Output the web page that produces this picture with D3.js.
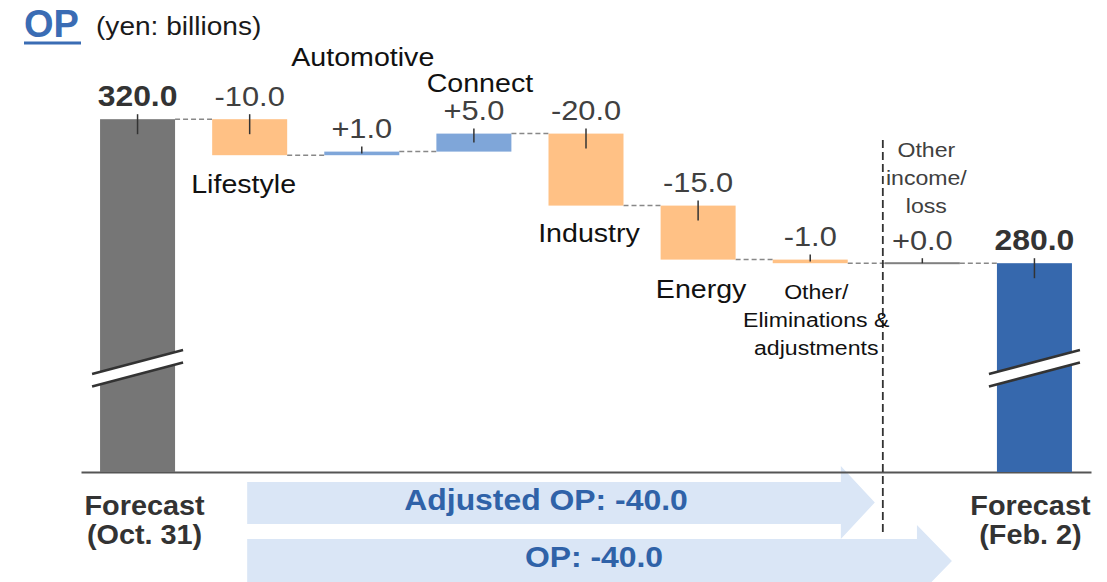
<!DOCTYPE html>
<html>
<head>
<meta charset="utf-8">
<script src="https://cdn.jsdelivr.net/npm/d3@7"></script>
<style>
  html, body { margin: 0; padding: 0; background: #fff; }
  svg { display: block; font-family: "Liberation Sans", Arial, sans-serif; }
</style>
</head>
<body>
<svg id="chart" width="1107" height="582"></svg>
<script>
// ---------------- data ----------------
const categories = ["Forecast (Oct. 31)", "Lifestyle", "Automotive", "Connect", "Industry", "Energy",
  "Other/ Eliminations & adjustments", "Other income/ loss", "Forecast (Feb. 2)"];
const categoryLines = [["Forecast", "(Oct. 31)"], ["Lifestyle"], ["Automotive"], ["Connect"], ["Industry"],
  ["Energy"], ["Other/", "Eliminations &", "adjustments"], ["Other", "income/", "loss"], ["Forecast", "(Feb. 2)"]];
const values = [320.0, -10.0, 1.0, 5.0, -20.0, -15.0, -1.0, 0.0, 280.0];
const kinds = ["total", "delta", "delta", "delta", "delta", "delta", "delta", "delta", "total"];
const axisFloor = 222;           // value at the (broken) baseline
const summaryNames = ["Adjusted OP", "OP"];
const summaryValues = [-40.0, -40.0];
const titleText = "OP";
const unitText = "(yen: billions)";

// ---------------- layout ----------------
const svg = d3.select("#chart");
const x = d3.scaleBand().domain(categories).range([81, 1091]).paddingInner(0.331).paddingOuter(0.17);
const y = d3.scaleLinear().domain([axisFloor, 320]).range([472, 119.2]);

const fmtDelta = v => d3.format("+.1f")(v).replace("\u2212", "-");
const fmtTotal = v => d3.format(".1f")(v).replace("\u2212", "-");

// running totals
let run = 0;
const bars = values.map((v, i) => {
  let lo, hi, level;
  if (kinds[i] === "total") { lo = axisFloor; hi = v; level = v; run = v; }
  else { const s = run; run = run + v; lo = Math.min(s, run); hi = Math.max(s, run); level = run; }
  return { i, cat: categories[i], v, lo, hi, level, kind: kinds[i] };
});

const colorOf = (d, i) => {
  if (d.kind === "total") return i === 0 ? "#767676" : "#3668ad";
  if (d.v > 0) return "#7fa6d9";
  if (d.v < 0) return "#ffc185";
  return "#808080";
};

// title
svg.append("text").attr("x", 24).attr("y", 37).attr("font-size", 38).attr("font-weight", "bold")
  .attr("fill", "#3a6cb4").text(titleText);
svg.append("rect").attr("x", 24).attr("y", 41.5).attr("width", 57).attr("height", 3).attr("fill", "#3a6cb4");
svg.append("text").attr("transform", "translate(96,35) scale(1.08,1)").attr("font-size", 26)
  .attr("fill", "#1a1a1a").text(unitText);

// summary arrows
const arrowDefs = [
  { x0: x(categories[1]) + 35, x1: x(categories[7]) - 44, tip: x(categories[7]) - 10, y0: 482, y1: 524, h0: 466, h1: 539, tx: 546, ty: 510 },
  { x0: x(categories[1]) + 35, x1: x(categories[8]) - 80, tip: x(categories[8]) - 45, y0: 539, y1: 583, h0: 525, h1: 597, tx: 594, ty: 567 }
];
arrowDefs.forEach((a, k) => {
  const my = (a.h0 + a.h1) / 2;
  svg.append("path").attr("fill", "#dae6f6")
    .attr("d", `M${a.x0},${a.y0}H${a.x1}V${a.h0}L${a.tip},${my}L${a.x1},${a.h1}V${a.y1}H${a.x0}Z`);
  svg.append("text").attr("transform", `translate(${a.tx},${a.ty}) scale(1.1,1)`).attr("text-anchor", "middle")
    .attr("font-size", 29).attr("font-weight", "bold").attr("fill", "#2f62a8")
    .text(`${summaryNames[k]}: ${fmtTotal(summaryValues[k])}`);
});

// baseline axis
const axisG = svg.append("g").attr("transform", `translate(0,${y(axisFloor)})`)
  .call(d3.axisBottom(x).tickSize(0).tickSizeOuter(0).tickFormat(""));
axisG.select(".domain").attr("stroke", "#555").attr("stroke-width", 2);

// connectors
for (let i = 0; i < bars.length - 1; i++) {
  const yy = y(bars[i].level);
  svg.append("line").attr("x1", x(categories[i]) + x.bandwidth()).attr("x2", x(categories[i + 1]))
    .attr("y1", yy).attr("y2", yy).attr("stroke", "#888").attr("stroke-width", 1.5)
    .attr("stroke-dasharray", "5,3");
}

// bars
svg.selectAll("rect.bar").data(bars).enter().append("rect").attr("class", "bar")
  .attr("x", d => x(d.cat)).attr("width", x.bandwidth())
  .attr("y", d => d.hi === d.lo ? y(d.hi) - 1 : y(d.hi))
  .attr("height", d => Math.max(2, y(d.lo) - y(d.hi)))
  .attr("fill", (d, i) => colorOf(d, i));

// small marker ticks
svg.selectAll("line.mk").data(bars).enter().append("line").attr("class", "mk")
  .attr("x1", d => x(d.cat) + x.bandwidth() / 2).attr("x2", d => x(d.cat) + x.bandwidth() / 2)
  .attr("y1", d => y(d.hi) - 5)
  .attr("y2", d => y(d.hi) + Math.min(15, Math.max(0, (y(d.lo) - y(d.hi)) / 2)))
  .attr("stroke", "#333").attr("stroke-width", 1.5);

// axis break marks
[0, bars.length - 1].forEach(i => {
  const bx = x(categories[i]) - 8, bw = x.bandwidth() + 16;
  const yl = y(axisFloor) - 98, yr = yl - 24, gap = 12.5;
  svg.append("path").attr("fill", "#fff")
    .attr("d", `M${bx},${yl}L${bx + bw},${yr}L${bx + bw},${yr + gap}L${bx},${yl + gap}Z`);
  [0, gap].forEach(g => svg.append("line").attr("x1", bx).attr("y1", yl + g).attr("x2", bx + bw).attr("y2", yr + g)
    .attr("stroke", "#333").attr("stroke-width", 2.5));
});

// separator between operating items and other income/loss
const sepX = x(categories[7]) - 2;
svg.append("line").attr("x1", sepX).attr("x2", sepX).attr("y1", 140).attr("y2", 533)
  .attr("stroke", "#333").attr("stroke-width", 1.8).attr("stroke-dasharray", "8,4");

// value labels
bars.forEach((d, i) => {
  const cx = x(d.cat) + x.bandwidth() / 2;
  svg.append("text").attr("transform", `translate(${cx},${y(d.hi) - 13.5}) scale(1.1,1)`)
    .attr("text-anchor", "middle").attr("font-size", d.kind === "total" ? 29 : 28)
    .attr("font-weight", d.kind === "total" ? "bold" : "normal")
    .attr("fill", d.kind === "total" ? "#333" : "#404040")
    .text(d.kind === "total" ? fmtTotal(d.v) : fmtDelta(d.v));
});

// category labels (segments)
const catLayout = {
  1: { dx: -6, ref: "lo", dy: 37.5, size: 26, lh: 28, fill: "#111" },
  2: { dx: 1, ref: "hi", dy: -86, size: 26, lh: 28, fill: "#111" },
  3: { dx: 6, ref: "hi", dy: -42, size: 26, lh: 28, fill: "#111" },
  4: { dx: 3, ref: "lo", dy: 36, size: 26, lh: 28, fill: "#111" },
  5: { dx: 3, ref: "lo", dy: 38, size: 26, lh: 28, fill: "#111" },
  6: { dx: 6, ref: "lo", dy: 36, size: 21, lh: 28, fill: "#111" },
  7: { dx: 4, ref: "hi", dy: -106, size: 21, lh: 28, fill: "#404040" }
};
Object.keys(catLayout).forEach(k => {
  const i = +k, L = catLayout[k], d = bars[i];
  const cx = x(d.cat) + x.bandwidth() / 2 + L.dx;
  const by = y(d[L.ref]) + L.dy;
  categoryLines[i].forEach((line, j) => {
    svg.append("text").attr("transform", `translate(${cx},${by + j * L.lh}) scale(1.1,1)`)
      .attr("text-anchor", "middle").attr("font-size", L.size).attr("fill", L.fill).text(line);
  });
});

// total labels under axis
[{ i: 0, dx: 7 }, { i: 8, dx: -4 }].forEach(o => {
  const cx = x(categories[o.i]) + x.bandwidth() / 2 + o.dx;
  categoryLines[o.i].forEach((line, j) => {
    svg.append("text").attr("transform", `translate(${cx},${515 + j * 28.5}) scale(1.03,1)`)
      .attr("text-anchor", "middle").attr("font-size", 28).attr("font-weight", "bold")
      .attr("fill", "#333").text(line);
  });
});
</script>
</body>
</html>
